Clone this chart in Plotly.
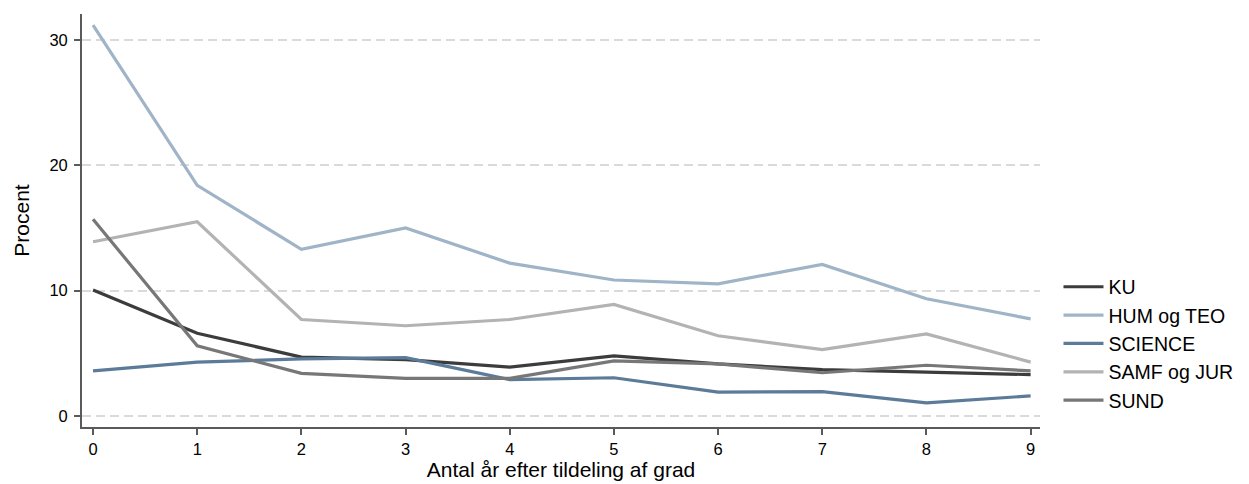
import plotly.graph_objects as go

years = [0, 1, 2, 3, 4, 5, 6, 7, 8, 9]
series_names = ["KU", "HUM og TEO", "SCIENCE", "SAMF og JUR", "SUND"]
ku = [10.05, 6.6, 4.7, 4.5, 3.9, 4.8, 4.15, 3.7, 3.5, 3.3]
hum = [31.2, 18.4, 13.3, 15.0, 12.2, 10.85, 10.55, 12.1, 9.35, 7.75]
science = [3.6, 4.3, 4.55, 4.65, 2.9, 3.05, 1.9, 1.95, 1.05, 1.6]
samf = [13.9, 15.5, 7.7, 7.2, 7.7, 8.9, 6.4, 5.3, 6.55, 4.3]
sund = [15.7, 5.6, 3.4, 3.0, 3.0, 4.4, 4.15, 3.45, 4.05, 3.6]
y_ticks = [0, 10, 20, 30]

colors = ["#3c3c3c", "#a0b4c8", "#5b7b99", "#b3b3b3", "#777777"]
values = [ku, hum, science, samf, sund]

fig = go.Figure()
for name, vals, col in zip(series_names, values, colors):
    fig.add_trace(go.Scatter(x=years, y=vals, mode="lines", name=name,
                             line=dict(color=col, width=3.2)))

fig.update_layout(
    width=1241, height=476,
    margin=dict(l=74, r=209, t=6, b=57),
    plot_bgcolor="white", paper_bgcolor="white",
    font=dict(family="Liberation Sans, Arial, sans-serif", size=16.5, color="#000"),
    legend=dict(x=1.0193, y=0.386, xanchor="left", yanchor="top",
                font=dict(size=19.5), tracegroupgap=0, itemwidth=40,
                bgcolor="rgba(0,0,0,0)"),
    xaxis=dict(range=[-0.106, 9.09], tickvals=years, showgrid=False,
               showline=True, linecolor="#5a5a5a", linewidth=1.8,
               ticks="outside", ticklen=6, tickcolor="#5a5a5a", tickwidth=1.5,
               zeroline=False,
               title=dict(text="Antal år efter tildeling af grad", font=dict(size=21), standoff=6)),
    yaxis=dict(range=[-0.88, 32.08], tickvals=y_ticks, showgrid=True,
               gridcolor="#dadada", griddash="9px,5px", gridwidth=1.8,
               showline=True, linecolor="#5a5a5a", linewidth=1.8,
               ticks="outside", ticklen=6, tickcolor="#5a5a5a", tickwidth=1.5,
               zeroline=False, ticklabelstandoff=3,
               title=dict(text="Procent", font=dict(size=21), standoff=14)),
)

fig.write_html("out.html")
